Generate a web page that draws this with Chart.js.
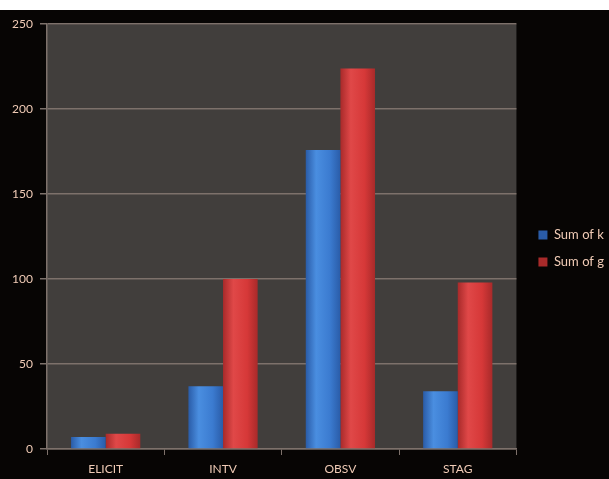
<!DOCTYPE html>
<html>
<head>
<meta charset="utf-8">
<script src="https://cdn.jsdelivr.net/npm/chart.js@4.4.1/dist/chart.umd.min.js"></script>
<style>
  html, body { margin: 0; padding: 0; background: #fff; }
  #wrap { position: absolute; left: 0; top: 10px; width: 609px; height: 469px; background: #070504; }
</style>
</head>
<body>
<div id="wrap"><canvas id="chart"></canvas></div>
<script>
const categories = ['ELICIT', 'INTV', 'OBSV', 'STAG'];
const sumOfK = [7, 37, 176, 34];
const sumOfG = [9, 100, 224, 98];
const yTicks = [0, 50, 100, 150, 200, 250];

const labelColor = '#f0cbb6';
const gridColor = '#7d716b';

// glossy column fill, built from the bar's own box once it is laid out
function gloss(base, edge, light) {
    return function (ctx) {
        const el = ctx.element;
        if (!el || el.x == null || !el.width) return base;
        const c = ctx.chart.ctx;
        const g = c.createLinearGradient(el.x - el.width / 2, 0, el.x + el.width / 2, 0);
        g.addColorStop(0, edge);
        g.addColorStop(0.3, light);
        g.addColorStop(0.7, base);
        g.addColorStop(1, edge);
        return g;
    };
}

const plotBackground = {
    id: 'plotBackground',
    beforeDraw(chart) {
        const { ctx, chartArea: a } = chart;
        ctx.save();
        ctx.fillStyle = '#413e3c';
        ctx.fillRect(a.left, a.top, a.right - a.left, a.bottom - a.top);
        ctx.restore();
    }
};

// nudge the legend a little right and up, like the original
const legendNudge = {
    id: 'legendNudge',
    afterLayout(chart) {
        const lg = chart.legend;
        if (!lg) return;
        lg.left += 8; lg.right += 8;
        lg.top -= 3; lg.bottom -= 3;
    }
};

Chart.defaults.font.family = 'Lato, "Open Sans", sans-serif';
Chart.defaults.font.size = 12;
Chart.defaults.color = labelColor;

let chart = new Chart(document.getElementById('chart'), {
    type: 'bar',
    data: {
        labels: categories,
        datasets: [
            {
                label: 'Sum of k',
                data: sumOfK,
                backgroundColor: gloss('#3b7bd0', '#2a5ca8', '#4a8ee0'),
                borderWidth: 0
            },
            {
                label: 'Sum of g',
                data: sumOfG,
                backgroundColor: gloss('#d63838', '#a82a2a', '#e04848'),
                borderWidth: 0
            }
        ]
    },
    options: {
        responsive: true,
        maintainAspectRatio: false,
        animation: false,
        layout: { padding: { top: 14, right: 3, bottom: 0, left: 0 } },
        datasets: { bar: { categoryPercentage: 0.59, barPercentage: 1.0 } },
        plugins: {
            tooltip: { enabled: false },
            legend: {
                position: 'right',
                labels: {
                    boxWidth: 9,
                    boxHeight: 9,
                    padding: 14,
                    color: labelColor,
                    font: { size: 13 }
                }
            }
        },
        scales: {
            x: {
                grid: {
                    offset: true,
                    drawOnChartArea: false,
                    drawTicks: true,
                    tickLength: 6,
                    color: gridColor
                },
                border: { color: gridColor, width: 1.5 },
                ticks: { padding: 7, color: labelColor, font: { size: 12 } },
                afterFit(scale) { scale.height = 30; }
            },
            y: {
                min: 0,
                max: 250,
                afterBuildTicks(scale) { scale.ticks = yTicks.map(v => ({ value: v })); },
                grid: { color: gridColor, lineWidth: 1.5, tickLength: 7 },
                border: { color: gridColor, width: 1.5 },
                ticks: { padding: 7, color: labelColor, font: { size: 12 } },
                afterFit(scale) { scale.width = 47; }
            }
        }
    },
    plugins: [plotBackground, legendNudge]
});

// second pass so the gradients see the laid-out bars
chart.update('none');
</script>
</body>
</html>
